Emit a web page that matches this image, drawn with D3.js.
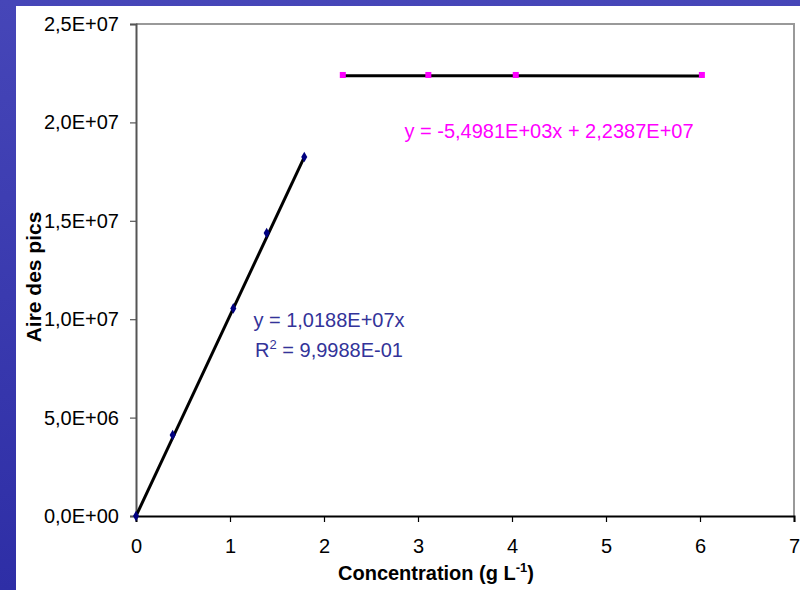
<!DOCTYPE html>
<html><head><meta charset="utf-8">
<script src="https://cdn.jsdelivr.net/npm/d3@7"></script>
<style>html,body{margin:0;padding:0;}svg{display:block;}</style>
</head><body>
<svg id="c" width="800" height="590"></svg>
<script>
// Data
const s1X = [0, 0.39, 1.035, 1.39, 1.79];
const s1Y = [0, 4.12e6, 1.055e7, 1.438e7, 1.824e7];
const s2X = [2.2, 3.11, 4.04, 6.02];
const s2Y = [2.241e7, 2.241e7, 2.241e7, 2.241e7];
const fit1 = {slope: 1.0188e7, intercept: 0, x0: 0, x1: 1.79};
const fit2 = {slope: -5.4981e3, intercept: 2.2387e7, x0: 2.2, x1: 6.02};
const xTicks = [0,1,2,3,4,5,6,7];
const yTicks = [0, 5e6, 1e7, 1.5e7, 2e7, 2.5e7];
const yTickLabels = ["0,0E+00","5,0E+06","1,0E+07","1,5E+07","2,0E+07","2,5E+07"];

const svg = d3.select("#c");
const defs = svg.append("defs");
const g1 = defs.append("linearGradient").attr("id","bg").attr("x1",0).attr("y1",0).attr("x2",0).attr("y2",1);
g1.append("stop").attr("offset","0%").attr("stop-color","#4646b8");
g1.append("stop").attr("offset","100%").attr("stop-color","#2e2ea6");
svg.append("rect").attr("width",800).attr("height",590).attr("fill","url(#bg)");
svg.append("rect").attr("x",16).attr("y",6).attr("width",784).attr("height",584).attr("fill","#fff");

const L=136, R=794, T=24, B=516;
const x = d3.scaleLinear().domain([0,7]).range([L,R]);
const y = d3.scaleLinear().domain([0,2.5e7]).range([B,T]);
const font = "Liberation Sans, Arial, sans-serif";

// border top and right
svg.append("path").attr("d",`M${L},${T}H${R}V${B}`).attr("fill","none").attr("stroke","#999").attr("stroke-width",2);

// y axis
const ya = svg.append("g").attr("transform",`translate(${L},0)`)
  .call(d3.axisLeft(y).tickValues(yTicks).tickSize(6).tickPadding(11).tickFormat((d,i)=>yTickLabels[i]));
ya.select(".domain").attr("stroke","#555").attr("stroke-width",2);
ya.selectAll(".tick line").attr("stroke","#555").attr("stroke-width",1.2);
ya.selectAll("text").attr("font-family",font).attr("font-size",20).attr("fill","#000");

// x axis
const xa = svg.append("g").attr("transform",`translate(0,${B})`)
  .call(d3.axisBottom(x).tickValues(xTicks).tickSize(6).tickPadding(17).tickFormat(d3.format("d")));
xa.select(".domain").attr("stroke","#000").attr("stroke-width",2);
xa.selectAll(".tick line").attr("stroke","#000").attr("stroke-width",1.2);
xa.selectAll("text").attr("font-family",font).attr("font-size",20).attr("fill","#000");

// trend lines
[fit1, fit2].forEach(f=>{
  svg.append("line")
    .attr("x1",x(f.x0)).attr("y1",y(f.slope*f.x0+f.intercept))
    .attr("x2",x(f.x1)).attr("y2",y(f.slope*f.x1+f.intercept))
    .attr("stroke","#000").attr("stroke-width",3);
});

// markers
const d1 = s1X.map((v,i)=>[v,s1Y[i]]);
const d2 = s2X.map((v,i)=>[v,s2Y[i]]);
svg.selectAll(".m1").data(d1).enter().append("path")
  .attr("d",d3.symbol().type(d3.symbolDiamond).size(32))
  .attr("transform",d=>`translate(${x(d[0])},${y(d[1])})`).attr("fill","#000080");
svg.selectAll(".m2").data(d2).enter().append("rect")
  .attr("x",d=>x(d[0])-3).attr("y",d=>y(d[1])-3).attr("width",6).attr("height",6).attr("fill","#ff00ff");

// equations
svg.append("text").attr("x",329).attr("y",327).attr("text-anchor","middle")
  .attr("font-family",font).attr("font-size",20).attr("fill","#333399").text("y = 1,0188E+07x");
const t2 = svg.append("text").attr("x",329).attr("y",357).attr("text-anchor","middle")
  .attr("font-family",font).attr("font-size",20).attr("fill","#333399");
t2.append("tspan").text("R");
t2.append("tspan").attr("dy",-8).attr("font-size",13).text("2");
t2.append("tspan").attr("dy",8).text(" = 9,9988E-01");
svg.append("text").attr("x",549).attr("y",138).attr("text-anchor","middle")
  .attr("font-family",font).attr("font-size",20).attr("fill","#ff00ff").text("y = -5,4981E+03x + 2,2387E+07");

// axis titles
const xt = svg.append("text").attr("x",436).attr("y",580).attr("text-anchor","middle")
  .attr("font-family",font).attr("font-size",20).attr("font-weight","bold").attr("fill","#000");
xt.append("tspan").text("Concentration (g L");
xt.append("tspan").attr("dy",-8).attr("font-size",13).text("-1");
xt.append("tspan").attr("dy",8).text(")");
svg.append("text").attr("transform","translate(41,277) rotate(-90)").attr("text-anchor","middle")
  .attr("font-family",font).attr("font-size",21).attr("font-weight","bold").attr("fill","#000").text("Aire des pics");
</script>
</body></html>
